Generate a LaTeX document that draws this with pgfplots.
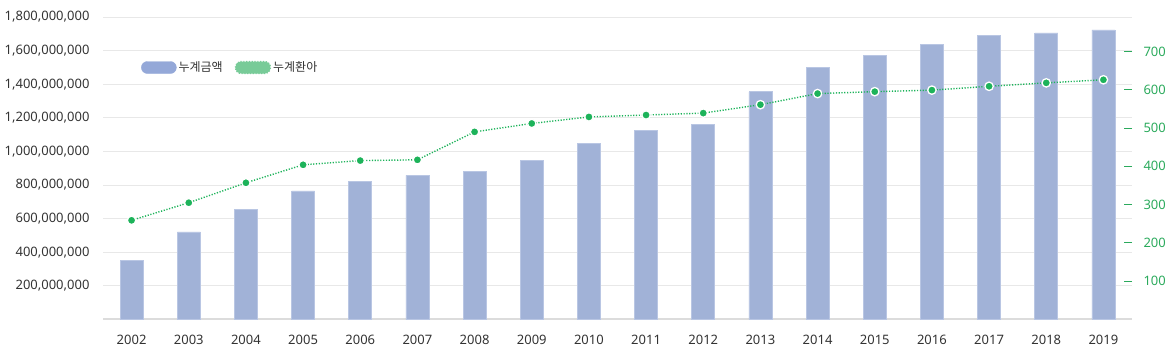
\documentclass[border=0pt]{standalone}
\usepackage{fontspec}
\setmainfont{Noto Sans}
\newfontfamily\cjk{Noto Sans CJK KR}
\usepackage{pgfplots}
\pgfplotsset{compat=1.18}
\usetikzlibrary{calc}
\definecolor{barc}{HTML}{A1B2D7}
\definecolor{bared}{HTML}{B9C6E3}
\definecolor{lineg}{HTML}{1DB35A}
\definecolor{tickg}{HTML}{2BAA5C}
\definecolor{gridc}{HTML}{E8E8E8}
\definecolor{basec}{HTML}{DCDCDC}
\definecolor{txt}{HTML}{333333}
\definecolor{legb}{HTML}{94A8D8}
\definecolor{legg}{HTML}{78CB98}
\begin{document}
\begin{tikzpicture}
\begin{axis}[name=ax, scale only axis, width=1029pt, height=302.5pt,
  xmin=-0.5, xmax=17.5, ymin=0, ymax=1800000000,
  scaled y ticks=false,
  axis x line*=bottom, axis y line*=left,
  axis line style={-},
  x axis line style={basec, line width=2pt},
  y axis line style={draw=none},
  xtick={0,...,17},
  xticklabels={2002,2003,2004,2005,2006,2007,2008,2009,2010,2011,2012,2013,2014,2015,2016,2017,2018,2019},
  ytick={200000000,400000000,600000000,800000000,1000000000,1200000000,1400000000,1600000000,1800000000},
  yticklabels={{200,000,000},{400,000,000},{600,000,000},{800,000,000},{1,000,000,000},{1,200,000,000},{1,400,000,000},{1,600,000,000},{1,800,000,000}},
  major tick length=0pt,
  ymajorgrids, grid style={gridc, line width=0.8pt},
  ticklabel style={font=\fontsize{13}{15}\selectfont, text=txt},
  yticklabel style={xshift=-10pt},
  xticklabel style={yshift=-12pt},
]
\addplot[ybar, bar width=23pt, fill=barc, draw=bared, line width=0.8pt] coordinates {
(0,350000000) (1,521000000) (2,653000000) (3,765000000) (4,820000000) (5,858000000)
(6,882000000) (7,947000000) (8,1048000000) (9,1126000000) (10,1159000000) (11,1355000000)
(12,1502000000) (13,1570000000) (14,1639000000) (15,1691000000) (16,1705000000) (17,1723000000)};
\end{axis}
\begin{axis}[scale only axis, width=1029pt, height=302.5pt,
  xmin=-0.5, xmax=17.5, ymin=0, ymax=790,
  hide x axis, axis y line*=right,
  axis line style={-},
  y axis line style={draw=none},
  ytick={100,200,300,400,500,600,700},
  yticklabels={100,200,300,400,500,600,700},
  tick align=inside, major tick length=8pt,
  ytick style={tickg, line width=1pt},
  yticklabel style={text=tickg, font=\fontsize{13}{15}\selectfont, xshift=8pt},
  legend style={at={(0.034,0.833)}, anchor=west, draw=none, fill=none,
    legend columns=-1, font=\cjk\fontsize{12}{14}\selectfont, text=txt,
    /tikz/every even column/.append style={column sep=10pt}},
]
\addlegendimage{legend image code/.code={\fill[legb, rounded corners=6pt] (0pt,-6pt) rectangle (35pt,6pt);}}
\addlegendentry{누계금액}
\addplot[lineg, line width=1.4pt, dash pattern=on 1.2pt off 1.6pt,
  mark=*, mark size=4.2pt, mark options={solid, fill=lineg, draw=white, line width=1.3pt},
  legend image code/.code={\fill[legg, rounded corners=6pt] (0pt,-6pt) rectangle (35pt,6pt);}]
 coordinates {
(0,259) (1,305) (2,357) (3,404) (4,415) (5,417) (6,490) (7,512) (8,529) (9,534)
(10,539) (11,561) (12,590) (13,595) (14,599) (15,609) (16,618) (17,626)};
\addlegendentry{누계환아}
\end{axis}
\pgfresetboundingbox
\path[use as bounding box] ($(ax.south west)+(-103pt,-37.5pt)$) rectangle ($(ax.north east)+(36pt,17pt)$);
\end{tikzpicture}
\end{document}
